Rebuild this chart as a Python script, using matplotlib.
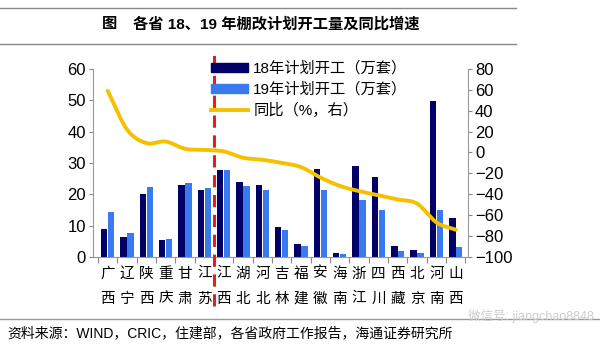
import numpy as np
import matplotlib
matplotlib.use("Agg")
import matplotlib.pyplot as plt
from matplotlib.patches import Patch
from matplotlib.lines import Line2D

plt.rcParams['font.family'] = ['Liberation Sans', 'Noto Sans CJK SC', 'DejaVu Sans']

provinces = ["广西", "辽宁", "陕西", "重庆", "甘肃", "江苏", "江西", "湖北", "河北", "吉林",
             "福建", "安徽", "海南", "浙江", "四川", "西藏", "北京", "河南", "山西"]
plan18 = [8.9, 6.2, 20.2, 5.3, 23.1, 21.3, 27.6, 24.0, 22.9, 9.4,
          4.2, 28.1, 1.4, 29.1, 25.5, 3.4, 2.3, 49.9, 12.4]
plan19 = [14.3, 7.6, 22.2, 5.8, 23.7, 22.0, 27.6, 22.7, 21.3, 8.6,
          3.6, 21.3, 0.9, 18.3, 15.0, 1.9, 1.2, 15.0, 3.2]
yoy = [59, 22, 9, 10.5, 3.5, 2.5, 1, -5, -7, -10,
       -14, -24, -32, -37, -41, -45, -49, -67, -74]

c18 = "#000066"
c19 = "#3a7af0"
cline = "#f5c000"

fig = plt.figure(figsize=(6, 3.5), dpi=100)
ax = fig.add_axes([0.155, 0.266, 0.625, 0.537])
ax2 = ax.twinx()

x = np.arange(len(provinces))
w = 0.33
ax.bar(x - 0.18, plan18, w, color=c18, zorder=2)
ax.bar(x + 0.18, plan19, w, color=c19, zorder=2)

# smooth curve through the data points (Catmull-Rom for display)
def catmull(xs, ys, n=20):
    xs = np.asarray(xs, float); ys = np.asarray(ys, float)
    px = np.concatenate([[2*xs[0]-xs[1]], xs, [2*xs[-1]-xs[-2]]])
    py = np.concatenate([[2*ys[0]-ys[1]], ys, [2*ys[-1]-ys[-2]]])
    ox, oy = [], []
    for i in range(1, len(px)-2):
        t = np.linspace(0, 1, n, endpoint=False)
        for arr, out in ((px, ox), (py, oy)):
            p0, p1, p2, p3 = arr[i-1], arr[i], arr[i+1], arr[i+2]
            out.extend(0.5*((2*p1) + (-p0+p2)*t + (2*p0-5*p1+4*p2-p3)*t**2 + (-p0+3*p1-3*p2+p3)*t**3))
    ox.append(xs[-1]); oy.append(ys[-1])
    return np.array(ox), np.array(oy)

sx, sy = catmull(x, yoy)
ax2.plot(sx, sy, color=cline, lw=2.8, zorder=3, solid_capstyle='round')

ax.set_xlim(-0.76, 18.63)
ax.set_ylim(0, 60)
ax2.set_ylim(-100, 80)
ax.set_yticks(range(0, 61, 10))
ax2.set_yticks(range(-100, 81, 20))

ax.set_xticks(np.arange(-0.5, 19, 1), minor=False)
ax.set_xticklabels([])
ax.set_xticks(x, minor=True)
ax.set_xticklabels(["\n".join(p) for p in provinces], minor=True, fontsize=10.5,
                   linespacing=2.0)
ax.tick_params(axis='x', which='minor', length=0, pad=7)
ax.tick_params(axis='x', which='major', length=4, color='#888888', direction='out')
ax.tick_params(axis='y', labelsize=12, length=3, color='#888888', pad=2)
ax2.tick_params(axis='y', labelsize=12, length=3, color='#888888', pad=2)

for a in (ax, ax2):
    a.spines['top'].set_visible(False)
    for s in ('left', 'right', 'bottom'):
        a.spines[s].set_color('#999999')
ax2.spines['left'].set_visible(False)
ax2.spines['bottom'].set_visible(False)
ax.spines['right'].set_visible(False)

# red dashed divider
ax.axvline(5.5, ymin=-0.26, ymax=1.09, color='#e02020', lw=2.2, ls=(0, (4, 2.5)),
           clip_on=False, zorder=5)

handles = [Patch(color=c18), Patch(color=c19), Line2D([], [], color=cline, lw=2.8)]
labels = ["18年计划开工（万套）", "19年计划开工（万套）", "同比（%，右）"]
fig.legend(handles, labels, loc='upper left', bbox_to_anchor=(0.352, 0.826),
           frameon=False, fontsize=11, handlelength=2.4, handleheight=0.55,
           handletextpad=0.35, labelspacing=0.42, borderaxespad=0, borderpad=0)

# title and rules
fig.add_artist(Line2D([0.0, 0.86], [1-8/350, 1-8/350], color='#888888', lw=1))
fig.add_artist(Line2D([0.0, 0.86], [1-44/350, 1-44/350], color='#888888', lw=1))
fig.text(0.17, 1-24/350, "图", fontsize=11, fontweight='bold', ha='left', va='center')
fig.text(0.222, 1-24/350, "各省 18、19 年棚改计划开工量及同比增速", fontsize=11,
         fontweight='bold', ha='left', va='center')

# source
fig.add_artist(Line2D([0.0, 1.0], [1-319/350, 1-319/350], color='#999999', lw=1))
fig.text(0.012, 1-333/350, "资料来源：WIND，CRIC，住建部，各省政府工作报告，海通证券研究所",
         fontsize=10, ha='left', va='center')
fig.text(0.99, 1-316/350, "微信号: jiangchao8848", fontsize=9, color='#cccccc',
         ha='right', va='center')

fig.savefig("out.png", dpi=100)
